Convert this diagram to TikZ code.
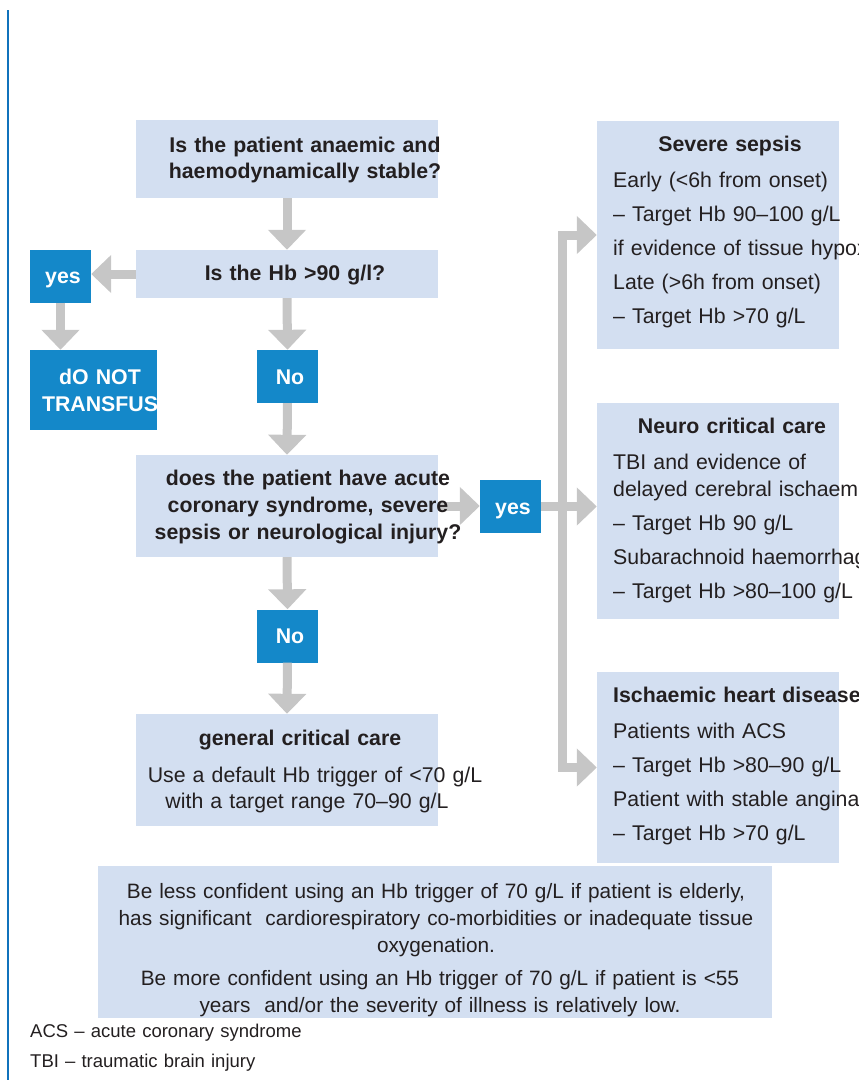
\documentclass[tikz,border=0pt]{standalone}
\usepackage{fontspec}
\setmainfont{Liberation Sans}
\usepackage{xcolor}
\usepackage{tikz}
\usetikzlibrary{calc,arrows.meta}

\definecolor{paleblue}{RGB}{211,223,241}
\definecolor{boxblue}{RGB}{20,136,201}
\definecolor{arrowgray}{RGB}{198,198,198}
\definecolor{inkgray}{RGB}{35,31,32}
\definecolor{rulecol}{RGB}{16,114,188}

\newcommand{\bodysize}{\fontsize{21.3}{26.5}\selectfont}

\tikzset{
    pale/.style={fill=paleblue, inner sep=0pt},
    answer/.style={fill=boxblue, inner sep=0pt, minimum width=61pt, minimum height=53pt,
        text=white, font=\bodysize\bfseries, text height=15.3pt, text depth=0pt},
    flow/.style={draw=arrowgray, line width=9pt, -{Triangle[width=37pt,length=20pt]}},
    question/.style={text=inkgray, font=\bodysize\bfseries, inner sep=0pt, anchor=base,
        text width=360pt, align=center},
    plain/.style={text=inkgray, font=\bodysize, inner sep=0pt, anchor=base,
        text width=360pt, align=center},
    detail/.style={text=inkgray, font=\fontsize{21.3}{34.2}\selectfont, inner sep=0pt,
        anchor=base west, text width=300pt, align=left}
}

\begin{document}
\begin{tikzpicture}[x=1pt, y=1pt]
    \useasboundingbox (0,0) rectangle (859,-1080);
    \draw[rulecol, line width=2.5pt] (8,-10) -- (8,-1080);

    % boxes
    \node[pale, minimum width=302pt, minimum height=78pt] (anaemic) at (287,-159) {};
    \node[pale, minimum width=302pt, minimum height=48pt] (hbcheck) at (287,-274) {};
    \node[pale, minimum width=302pt, minimum height=102pt] (acute) at (287,-506) {};
    \node[pale, minimum width=302pt, minimum height=112pt] (general) at (287,-770) {};
    \node[answer] (yesleft) at (60.5,-276) {\hspace{5pt}yes};
    \node[answer, minimum width=127pt, minimum height=80pt] (stop) at (93.5,-390) {};
    \node[answer] (nofirst) at (287.5,-376.5) {\hspace{5pt}No};
    \node[answer] (nosecond) at (287.5,-636) {\hspace{5pt}No};
    \node[answer] (yesright) at (510.5,-506.5) {\hspace{5pt}yes};
    \node[pale, minimum width=242pt, minimum height=228pt] (sepsis) at (718,-235) {};
    \node[pale, minimum width=242pt, minimum height=216pt] (neuro) at (718,-511) {};
    \node[pale, minimum width=242pt, minimum height=191pt] (heart) at (718,-767.5) {};
    \node[pale, minimum width=674pt, minimum height=152pt] (caution) at (435,-942) {};

    % arrows
    \draw[flow] (anaemic.south) -- (hbcheck.north);
    \draw[flow] (hbcheck.west) -- (hbcheck.west -| yesleft.east);
    \draw[flow] (yesleft.south) -- (yesleft.south |- stop.north);
    \draw[flow] (hbcheck.south) -- (nofirst.north);
    \draw[flow] (nofirst.south) -- (acute.north);
    \draw[flow] (acute.south) -- (nosecond.north);
    \draw[flow] (nosecond.south) -- (general.north);
    \draw[flow] (acute.east) -- (acute.east -| yesright.west);
    \coordinate (split) at (562,-506.5);
    \draw[flow] (yesright.east) -- (yesright.east -| neuro.west);
    \draw[flow] (split) |- (sepsis.west);
    \draw[flow] (split) |- (heart.west);

    % texts
    \node[question] (anaemictext) at (305,-152) {Is the patient anaemic and\\haemodynamically stable?};
    \node[question] (hbtext) at (295,-280) {Is the Hb >90 g/l?};
    \node[question, font=\fontsize{21.3}{27}\selectfont\bfseries] (acutetext) at (308,-485)
        {does the patient have acute\\coronary syndrome, severe\\sepsis or neurological injury?};
    \node[question, text=white, font=\fontsize{21.3}{27}\selectfont\bfseries] (stoptext) at (100,-384)
        {dO NOT\\TRANSFUS};
    \node[question] (generaltitle) at (300,-745) {general critical care};
    \node[plain] (generaltext) at (311,-782) {\hspace*{8pt}Use a default Hb trigger of <70 g/L\\with a target range 70--90 g/L\hspace*{8pt}};

    \node[question] (sepsistitle) at (730,-151) {Severe sepsis};
    \node[detail] (sepsistext) at (613,-187) {Early (<6h from onset)\\
        -- Target Hb 90--100 g/L\\
        if evidence of tissue hypox\\
        Late (>6h from onset)\\
        -- Target Hb >70 g/L};
    \node[question] (neurotitle) at (732,-433) {Neuro critical care};
    \node[detail] (neurotext) at (613,-469) {TBI and evidence of\\[-7pt]
        delayed cerebral ischaemi\\
        -- Target Hb 90 g/L\\
        Subarachnoid haemorrhag\\
        -- Target Hb >80--100 g/L};
    \node[detail, font=\fontsize{21.3}{34.2}\selectfont\bfseries] (hearttitle) at (613,-702) {Ischaemic heart disease};
    \node[detail] (hearttext) at (613,-738) {Patients with ACS\\
        -- Target Hb >80--90 g/L\\
        Patient with stable angina\\
        -- Target Hb >70 g/L};

    \node[plain, text width=720pt, font=\fontsize{20.8}{27}\selectfont] (cautiontext) at (436,-898)
        {Be less confident using an Hb trigger of 70 g/L if patient is elderly,\\
        has significant\ \ cardiorespiratory co-morbidities or inadequate tissue\\
        oxygenation.\\[6pt]
        \hspace*{8pt}Be more confident using an Hb trigger of 70 g/L if patient is <55\\
        \hspace*{8pt}years\ \ and/or the severity of illness is relatively low.};

    \node[detail, font=\fontsize{18.5}{22}\selectfont] (acsnote) at (30,-1037) {ACS -- acute coronary syndrome};
    \node[detail, font=\fontsize{18.5}{22}\selectfont] (tbinote) at (30,-1067) {TBI -- traumatic brain injury};
\end{tikzpicture}
\end{document}
